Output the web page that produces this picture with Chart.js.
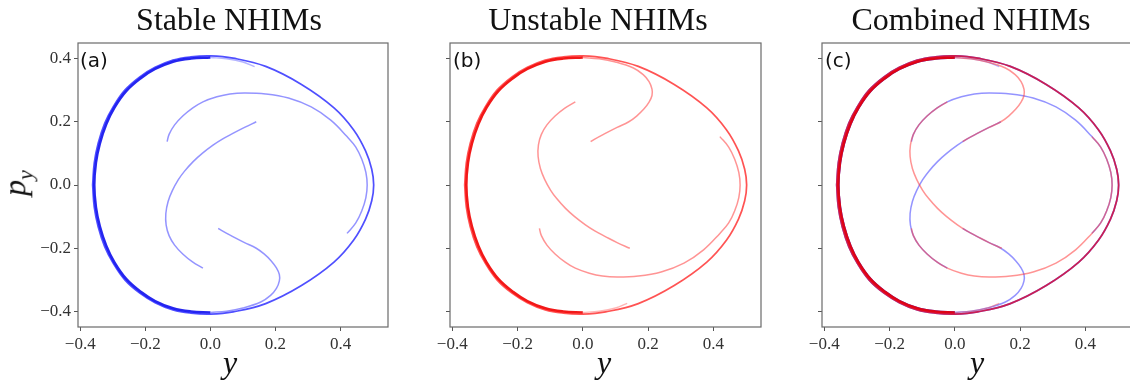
<!DOCTYPE html>
<html lang="en">
<head>
<meta charset="UTF-8">
<title>NHIMs</title>
<script src="https://cdn.jsdelivr.net/npm/chart.js"></script>
<style>
    body { margin: 0; width: 1130px; height: 385px; overflow: hidden; background: #fff; position: relative;
           font-family: "Liberation Serif", serif; color: #111; }
    canvas { position: absolute; top: 0; }
    .title { position: absolute; top: 3px; font-size: 32px; line-height: 32px; transform: translateX(-50%); white-space: nowrap; }
    .tag { position: absolute; top: 50px; font-family: "DejaVu Sans", sans-serif; font-size: 20px; line-height: 20px; }
    .xlab { position: absolute; top: 346px; font-size: 32px; line-height: 32px; font-style: italic; transform: translateX(-50%); }
    .ylab { position: absolute; left: 20px; top: 183px; font-size: 32px; line-height: 32px; font-style: italic;
            transform: translate(-50%, -50%) rotate(-90deg); white-space: nowrap; }
    .ylab sub { font-size: 22px; }
</style>
</head>
<body>
<canvas id="stable" width="400" height="385" style="left:0px"></canvas>
<canvas id="unstable" width="370" height="385" style="left:400px"></canvas>
<canvas id="combined" width="360" height="385" style="left:780px"></canvas>

<div class="title" style="left:229px">Stable NHIMs</div>
<div class="title" style="left:598px">Unstable NHIMs</div>
<div class="title" style="left:971px">Combined NHIMs</div>
<div class="tag" style="left:80px">(a)</div>
<div class="tag" style="left:453px">(b)</div>
<div class="tag" style="left:825px">(c)</div>
<div class="xlab" style="left:230px">y</div>
<div class="xlab" style="left:604px">y</div>
<div class="xlab" style="left:977px">y</div>
<div class="ylab">p<sub>y</sub></div>

<script>
// axis ticks
const xTicks = [-0.4, -0.2, 0.0, 0.2, 0.4];
const yTicks = [-0.4, -0.2, 0.0, 0.2, 0.4];

// stable manifold cuts, [y, p_y]
const stableOuter = [[-0.362, 0.0], [-0.357, 0.07], [-0.345, 0.132], [-0.325, 0.195], [-0.299, 0.247], [-0.263, 0.3],
    [-0.217, 0.342], [-0.17, 0.372], [-0.115, 0.395], [-0.06, 0.405], [0.0, 0.408], [0.07, 0.401], [0.17, 0.375],
    [0.28, 0.318], [0.38, 0.244], [0.44, 0.175], [0.477, 0.108], [0.496, 0.05], [0.502, 0.0], [0.496, -0.05],
    [0.477, -0.108], [0.44, -0.175], [0.38, -0.244], [0.28, -0.318], [0.17, -0.375], [0.07, -0.401], [0.0, -0.408],
    [-0.06, -0.405], [-0.115, -0.395], [-0.17, -0.372], [-0.217, -0.342], [-0.263, -0.3], [-0.299, -0.247],
    [-0.325, -0.195], [-0.345, -0.132], [-0.357, -0.07], [-0.362, 0.0]];
const stableBand = [[0.0, -0.403], [-0.06, -0.4], [-0.115, -0.39], [-0.17, -0.367], [-0.214, -0.338], [-0.259, -0.297],
    [-0.295, -0.245], [-0.32, -0.193], [-0.34, -0.131], [-0.352, -0.07], [-0.357, 0.0], [-0.352, 0.07],
    [-0.34, 0.131], [-0.32, 0.193], [-0.295, 0.245], [-0.259, 0.297], [-0.214, 0.338], [-0.17, 0.367],
    [-0.115, 0.39], [-0.06, 0.4], [0.0, 0.403]];
const stableTail = [[0.0, 0.403], [0.05, 0.399], [0.1, 0.389], [0.136, 0.374]];
const stableHook = [[0.024, -0.137], [0.038, -0.146], [0.069, -0.163], [0.105, -0.182], [0.141, -0.2], [0.165, -0.218],
    [0.187, -0.24], [0.203, -0.262], [0.212, -0.283], [0.212, -0.303], [0.203, -0.327], [0.185, -0.349],
    [0.155, -0.37], [0.1, -0.389], [0.05, -0.399], [0.0, -0.403]];
const stableArc = [[-0.133, 0.137], [-0.127, 0.16], [-0.11, 0.19], [-0.085, 0.218], [-0.055, 0.243], [-0.023, 0.263],
    [0.02, 0.279], [0.06, 0.288], [0.105, 0.291], [0.17, 0.288], [0.24, 0.275], [0.31, 0.247], [0.37, 0.205],
    [0.42, 0.153], [0.447, 0.12], [0.466, 0.08], [0.478, 0.04], [0.482, 0.0], [0.478, -0.04], [0.466, -0.08],
    [0.447, -0.12], [0.42, -0.153]];
const stableS = [[0.141, 0.2], [0.105, 0.182], [0.069, 0.163], [0.038, 0.146], [0.008, 0.126], [-0.025, 0.1],
    [-0.053, 0.074], [-0.08, 0.043], [-0.099, 0.016], [-0.117, -0.018], [-0.13, -0.052], [-0.137, -0.09],
    [-0.136, -0.127], [-0.127, -0.16], [-0.11, -0.19], [-0.085, -0.218], [-0.055, -0.243], [-0.023, -0.263]];

// unstable manifold cuts, [y, p_y]
const unstableOuter = [[-0.362, 0.0], [-0.357, 0.07], [-0.345, 0.132], [-0.325, 0.195], [-0.299, 0.247], [-0.263, 0.3],
    [-0.217, 0.342], [-0.17, 0.372], [-0.115, 0.395], [-0.06, 0.405], [0.0, 0.408], [0.07, 0.401], [0.17, 0.375],
    [0.28, 0.318], [0.38, 0.244], [0.44, 0.175], [0.477, 0.108], [0.496, 0.05], [0.502, 0.0], [0.496, -0.05],
    [0.477, -0.108], [0.44, -0.175], [0.38, -0.244], [0.28, -0.318], [0.17, -0.375], [0.07, -0.401], [0.0, -0.408],
    [-0.06, -0.405], [-0.115, -0.395], [-0.17, -0.372], [-0.217, -0.342], [-0.263, -0.3], [-0.299, -0.247],
    [-0.325, -0.195], [-0.345, -0.132], [-0.357, -0.07], [-0.362, 0.0]];
const unstableBand = [[0.0, 0.403], [-0.06, 0.4], [-0.115, 0.39], [-0.17, 0.367], [-0.214, 0.338], [-0.259, 0.297],
    [-0.295, 0.245], [-0.32, 0.193], [-0.34, 0.131], [-0.352, 0.07], [-0.357, 0.0], [-0.352, -0.07],
    [-0.34, -0.131], [-0.32, -0.193], [-0.295, -0.245], [-0.259, -0.297], [-0.214, -0.338], [-0.17, -0.367],
    [-0.115, -0.39], [-0.06, -0.4], [0.0, -0.403]];
const unstableTail = [[0.0, -0.403], [0.05, -0.399], [0.1, -0.389], [0.136, -0.374]];
const unstableHook = [[0.024, 0.137], [0.038, 0.146], [0.069, 0.163], [0.105, 0.182], [0.141, 0.2], [0.165, 0.218],
    [0.187, 0.24], [0.203, 0.262], [0.212, 0.283], [0.212, 0.303], [0.203, 0.327], [0.185, 0.349],
    [0.155, 0.37], [0.1, 0.389], [0.05, 0.399], [0.0, 0.403]];
const unstableS = [[-0.023, 0.263], [-0.055, 0.243], [-0.085, 0.218], [-0.11, 0.19], [-0.127, 0.16], [-0.136, 0.127],
    [-0.137, 0.09], [-0.13, 0.052], [-0.117, 0.018], [-0.099, -0.016], [-0.08, -0.043], [-0.053, -0.074],
    [-0.025, -0.1], [0.008, -0.126], [0.038, -0.146], [0.069, -0.163], [0.105, -0.182], [0.144, -0.2]];
const unstableArc = [[-0.133, -0.137], [-0.127, -0.16], [-0.11, -0.19], [-0.085, -0.218], [-0.055, -0.243],
    [-0.023, -0.263], [0.02, -0.279], [0.06, -0.288], [0.105, -0.291], [0.17, -0.288], [0.24, -0.275], [0.31, -0.247],
    [0.37, -0.205], [0.42, -0.153], [0.447, -0.12], [0.466, -0.08], [0.478, -0.04], [0.482, 0.0], [0.478, 0.04],
    [0.466, 0.08], [0.447, 0.12], [0.42, 0.153]];

function curve(points, color, width) {
    return {
        data: points.map(p => ({ x: p[0], y: p[1] })),
        showLine: true,
        borderColor: color,
        borderWidth: width,
        pointRadius: 0,
        tension: 0.4,
        fill: false
    };
}

function stableSets() {
    return [
        curve(stableOuter, 'rgba(20,20,255,0.75)', 1.7),
        curve(stableBand, 'rgba(0,0,235,0.85)', 2.6),
        curve(stableTail, 'rgba(70,70,255,0.4)', 1.4),
        curve(stableHook, 'rgba(60,60,255,0.55)', 1.5),
        curve(stableArc, 'rgba(60,60,255,0.55)', 1.5),
        curve(stableS, 'rgba(60,60,255,0.55)', 1.5)
    ];
}

function unstableSets() {
    return [
        curve(unstableOuter, 'rgba(255,10,10,0.7)', 1.7),
        curve(unstableBand, 'rgba(240,0,0,0.9)', 2.6),
        curve(unstableTail, 'rgba(255,70,70,0.4)', 1.4),
        curve(unstableHook, 'rgba(255,60,60,0.55)', 1.5),
        curve(unstableArc, 'rgba(255,60,60,0.55)', 1.5),
        curve(unstableS, 'rgba(255,60,60,0.55)', 1.5)
    ];
}

const fmt = v => v.toFixed(1).replace('-', '\u2212');

// box around the axes
const frame = {
    id: 'frame',
    afterDraw(chart) {
        const { ctx, chartArea: a } = chart;
        ctx.save();
        ctx.strokeStyle = '#6a6a6a';
        ctx.lineWidth = 1.2;
        ctx.strokeRect(a.left, a.top, a.right - a.left, a.bottom - a.top);
        ctx.restore();
    }
};

function makeChart(id, datasets, yAxisWidth, padRight, showYLabels) {
    const tickFont = { family: 'Liberation Serif', size: 17 };
    return new Chart(document.getElementById(id), {
        type: 'scatter',
        data: { datasets: datasets },
        options: {
            responsive: false,
            animation: false,
            events: [],
            layout: { padding: { top: 43, right: padRight, bottom: 0, left: 0 } },
            plugins: { legend: { display: false }, tooltip: { enabled: false } },
            scales: {
                x: {
                    type: 'linear', min: -0.407, max: 0.546,
                    afterBuildTicks: s => { s.ticks = xTicks.map(v => ({ value: v })); },
                    afterFit: s => { s.height = 58; },
                    ticks: { callback: fmt, font: tickFont, color: '#333', padding: 3, maxRotation: 0 },
                    grid: { drawOnChartArea: false, drawTicks: true, tickLength: 4, color: '#555' },
                    border: { display: false }
                },
                y: {
                    type: 'linear', min: -0.449, max: 0.449,
                    afterBuildTicks: s => { s.ticks = yTicks.map(v => ({ value: v })); },
                    afterFit: s => { s.width = yAxisWidth; },
                    ticks: { display: showYLabels, callback: fmt, font: tickFont, color: '#333', padding: 3 },
                    grid: { drawOnChartArea: false, drawTicks: true, tickLength: 4, color: '#555' },
                    border: { display: false }
                }
            }
        },
        plugins: [frame]
    });
}

makeChart('stable', stableSets(), 78, 12, true);
makeChart('unstable', unstableSets(), 50, 9, false);
// red drawn over blue: first dataset ends up on top
makeChart('combined', unstableSets().concat(stableSets()), 42, 7, false);
</script>
</body>
</html>
